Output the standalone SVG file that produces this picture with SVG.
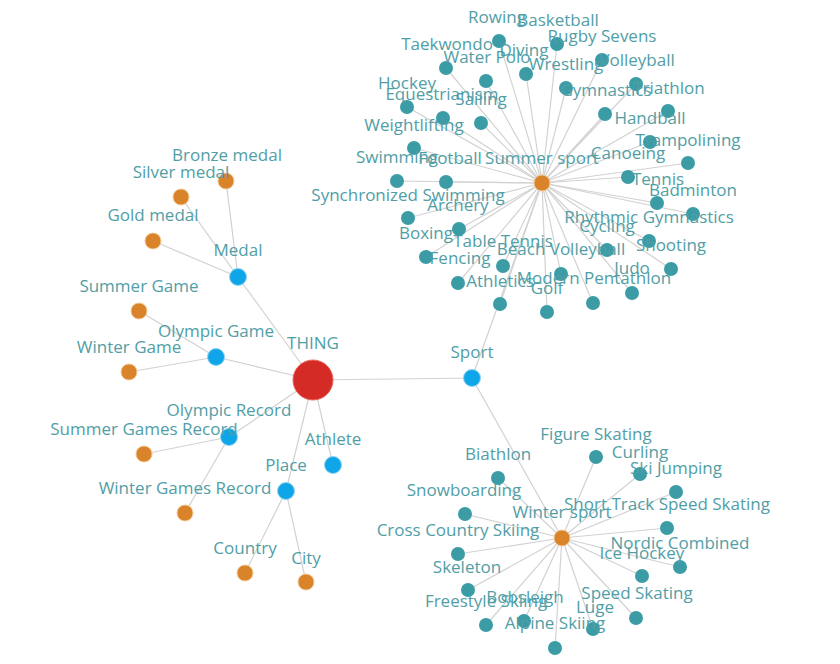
<svg xmlns="http://www.w3.org/2000/svg" width="840" height="664" viewBox="0 0 840 664">
<style>
.e{stroke:#d2d2d2;stroke-width:1.2;fill:none}
text{font-family:"Open Sans","Noto Sans","Liberation Sans",sans-serif;font-size:17px;fill:#519ea6;text-anchor:middle}
.red{fill:#d42b27;stroke:#e86a5a;stroke-width:1}
.blue{fill:#0fa5e9;stroke:#8fd3f4;stroke-width:1}
.org{fill:#d9832a;stroke:#f3c792;stroke-width:1}
.teal{fill:#3b9ca6}
</style>
<rect width="840" height="664" fill="#ffffff"/>
<g id="connectors">
<line class="e" x1="313" y1="380" x2="472" y2="378"/>
<line class="e" x1="313" y1="380" x2="238" y2="277"/>
<line class="e" x1="313" y1="380" x2="216" y2="357"/>
<line class="e" x1="313" y1="380" x2="229" y2="437"/>
<line class="e" x1="313" y1="380" x2="333" y2="465"/>
<line class="e" x1="313" y1="380" x2="286" y2="491"/>
<line class="e" x1="238" y1="277" x2="226" y2="181"/>
<line class="e" x1="238" y1="277" x2="181" y2="197"/>
<line class="e" x1="238" y1="277" x2="153" y2="241"/>
<line class="e" x1="216" y1="357" x2="139" y2="311"/>
<line class="e" x1="216" y1="357" x2="129" y2="372"/>
<line class="e" x1="229" y1="437" x2="144" y2="454"/>
<line class="e" x1="229" y1="437" x2="185" y2="513"/>
<line class="e" x1="286" y1="491" x2="245" y2="573"/>
<line class="e" x1="286" y1="491" x2="306" y2="582"/>
<line class="e" x1="472" y1="378" x2="542" y2="183"/>
<line class="e" x1="472" y1="378" x2="562" y2="538"/>
<g id="summer-edges">
<line class="e" x1="542" y1="183" x2="499" y2="41"/>
<line class="e" x1="542" y1="183" x2="557" y2="44"/>
<line class="e" x1="542" y1="183" x2="602" y2="60"/>
<line class="e" x1="542" y1="183" x2="446" y2="68"/>
<line class="e" x1="542" y1="183" x2="486" y2="81"/>
<line class="e" x1="542" y1="183" x2="526" y2="74"/>
<line class="e" x1="542" y1="183" x2="566" y2="88"/>
<line class="e" x1="542" y1="183" x2="636" y2="84"/>
<line class="e" x1="542" y1="183" x2="407" y2="107"/>
<line class="e" x1="542" y1="183" x2="443" y2="118"/>
<line class="e" x1="542" y1="183" x2="481" y2="123"/>
<line class="e" x1="542" y1="183" x2="605" y2="114"/>
<line class="e" x1="542" y1="183" x2="668" y2="111"/>
<line class="e" x1="542" y1="183" x2="650" y2="142"/>
<line class="e" x1="542" y1="183" x2="414" y2="148"/>
<line class="e" x1="542" y1="183" x2="688" y2="163"/>
<line class="e" x1="542" y1="183" x2="397" y2="181"/>
<line class="e" x1="542" y1="183" x2="446" y2="182"/>
<line class="e" x1="542" y1="183" x2="628" y2="177"/>
<line class="e" x1="542" y1="183" x2="657" y2="203"/>
<line class="e" x1="542" y1="183" x2="408" y2="218"/>
<line class="e" x1="542" y1="183" x2="459" y2="229"/>
<line class="e" x1="542" y1="183" x2="693" y2="214"/>
<line class="e" x1="542" y1="183" x2="426" y2="257"/>
<line class="e" x1="542" y1="183" x2="649" y2="241"/>
<line class="e" x1="542" y1="183" x2="607" y2="250"/>
<line class="e" x1="542" y1="183" x2="503" y2="266"/>
<line class="e" x1="542" y1="183" x2="561" y2="274"/>
<line class="e" x1="542" y1="183" x2="458" y2="283"/>
<line class="e" x1="542" y1="183" x2="671" y2="269"/>
<line class="e" x1="542" y1="183" x2="632" y2="293"/>
<line class="e" x1="542" y1="183" x2="500" y2="304"/>
<line class="e" x1="542" y1="183" x2="593" y2="303"/>
<line class="e" x1="542" y1="183" x2="547" y2="312"/>
</g>
<g id="winter-edges">
<line class="e" x1="562" y1="538" x2="596" y2="457"/>
<line class="e" x1="562" y1="538" x2="640" y2="474"/>
<line class="e" x1="562" y1="538" x2="676" y2="492"/>
<line class="e" x1="562" y1="538" x2="498" y2="478"/>
<line class="e" x1="562" y1="538" x2="465" y2="514"/>
<line class="e" x1="562" y1="538" x2="667" y2="528"/>
<line class="e" x1="562" y1="538" x2="458" y2="554"/>
<line class="e" x1="562" y1="538" x2="680" y2="567"/>
<line class="e" x1="562" y1="538" x2="642" y2="576"/>
<line class="e" x1="562" y1="538" x2="468" y2="590"/>
<line class="e" x1="562" y1="538" x2="636" y2="618"/>
<line class="e" x1="562" y1="538" x2="486" y2="625"/>
<line class="e" x1="562" y1="538" x2="524" y2="621"/>
<line class="e" x1="562" y1="538" x2="593" y2="629"/>
<line class="e" x1="562" y1="538" x2="555" y2="648"/>
</g>
</g>
<g id="nodes">
<g id="n-thing"><text x="313" y="349">THING</text><circle class="red" cx="313" cy="380" r="20"/></g>
<g id="n-medal"><text x="238" y="256">Medal</text><circle class="blue" cx="238" cy="277" r="8.5"/></g>
<g id="n-olympic-game"><text x="216" y="337">Olympic Game</text><circle class="blue" cx="216" cy="357" r="8.5"/></g>
<g id="n-olympic-record"><text x="229" y="416">Olympic Record</text><circle class="blue" cx="229" cy="437" r="8.5"/></g>
<g id="n-athlete"><text x="333" y="445">Athlete</text><circle class="blue" cx="333" cy="465" r="8.5"/></g>
<g id="n-place"><text x="286" y="471">Place</text><circle class="blue" cx="286" cy="491" r="8.5"/></g>
<g id="n-sport"><text x="472" y="358">Sport</text><circle class="blue" cx="472" cy="378" r="8.5"/></g>
<g id="n-bronze"><text x="227" y="161">Bronze medal</text><circle class="org" cx="226" cy="181" r="8"/></g>
<g id="n-silver"><text x="181" y="178">Silver medal</text><circle class="org" cx="181" cy="197" r="8"/></g>
<g id="n-gold"><text x="153" y="221">Gold medal</text><circle class="org" cx="153" cy="241" r="8"/></g>
<g id="n-summer-game"><text x="139" y="292">Summer Game</text><circle class="org" cx="139" cy="311" r="8"/></g>
<g id="n-winter-game"><text x="129" y="353">Winter Game</text><circle class="org" cx="129" cy="372" r="8"/></g>
<g id="n-summer-games-record"><text x="144" y="435">Summer Games Record</text><circle class="org" cx="144" cy="454" r="8"/></g>
<g id="n-winter-games-record"><text x="185" y="494">Winter Games Record</text><circle class="org" cx="185" cy="513" r="8"/></g>
<g id="n-country"><text x="245" y="554">Country</text><circle class="org" cx="245" cy="573" r="8"/></g>
<g id="n-city"><text x="306" y="564">City</text><circle class="org" cx="306" cy="582" r="8"/></g>
<g id="n-summer-sport"><text x="542" y="164">Summer sport</text><circle class="org" cx="542" cy="183" r="8"/></g>
<g id="n-winter-sport"><text x="562" y="518">Winter sport</text><circle class="org" cx="562" cy="538" r="8"/></g>
<g id="n-rowing"><text x="497" y="23">Rowing</text><circle class="teal" cx="499" cy="41" r="7"/></g>
<g id="n-basketball"><text x="558" y="26">Basketball</text><circle class="teal" cx="557" cy="44" r="7"/></g>
<g id="n-rugby"><text x="602" y="42">Rugby Sevens</text><circle class="teal" cx="602" cy="60" r="7"/></g>
<g id="n-taekwondo"><text x="447" y="50">Taekwondo</text><circle class="teal" cx="446" cy="68" r="7"/></g>
<g id="n-waterpolo"><text x="487" y="63">Water Polo</text><circle class="teal" cx="486" cy="81" r="7"/></g>
<g id="n-diving"><text x="524" y="56">Diving</text><circle class="teal" cx="526" cy="74" r="7"/></g>
<g id="n-wrestling"><text x="566" y="70">Wrestling</text><circle class="teal" cx="566" cy="88" r="7"/></g>
<g id="n-volleyball"><text x="637" y="66">Volleyball</text><circle class="teal" cx="636" cy="84" r="7"/></g>
<g id="n-hockey"><text x="407" y="89">Hockey</text><circle class="teal" cx="407" cy="107" r="7"/></g>
<g id="n-equestrianism"><text x="442" y="100">Equestrianism</text><circle class="teal" cx="443" cy="118" r="7"/></g>
<g id="n-sailing"><text x="481" y="105">Sailing</text><circle class="teal" cx="481" cy="123" r="7"/></g>
<g id="n-gymnastics"><text x="606" y="96">Gymnastics</text><circle class="teal" cx="605" cy="114" r="7"/></g>
<g id="n-triathlon"><text x="669" y="94">Triathlon</text><circle class="teal" cx="668" cy="111" r="7"/></g>
<g id="n-handball"><text x="650" y="124">Handball</text><circle class="teal" cx="650" cy="142" r="7"/></g>
<g id="n-weightlifting"><text x="414" y="131">Weightlifting</text><circle class="teal" cx="414" cy="148" r="7"/></g>
<g id="n-trampolining"><text x="688" y="146">Trampolining</text><circle class="teal" cx="688" cy="163" r="7"/></g>
<g id="n-swimming"><text x="397" y="163">Swimming</text><circle class="teal" cx="397" cy="181" r="7"/></g>
<g id="n-football"><text x="450" y="164">Football</text><circle class="teal" cx="446" cy="182" r="7"/></g>
<g id="n-canoeing"><text x="628" y="159">Canoeing</text><circle class="teal" cx="628" cy="177" r="7"/></g>
<g id="n-tennis"><text x="658" y="185">Tennis</text><circle class="teal" cx="657" cy="203" r="7"/></g>
<g id="n-synchro"><text x="408" y="201">Synchronized Swimming</text><circle class="teal" cx="408" cy="218" r="7"/></g>
<g id="n-archery"><text x="458" y="211">Archery</text><circle class="teal" cx="459" cy="229" r="7"/></g>
<g id="n-badminton"><text x="693" y="196">Badminton</text><circle class="teal" cx="693" cy="214" r="7"/></g>
<g id="n-boxing"><text x="426" y="239">Boxing</text><circle class="teal" cx="426" cy="257" r="7"/></g>
<g id="n-rhythmic"><text x="649" y="223">Rhythmic Gymnastics</text><circle class="teal" cx="649" cy="241" r="7"/></g>
<g id="n-cycling"><text x="607" y="232">Cycling</text><circle class="teal" cx="607" cy="250" r="7"/></g>
<g id="n-tabletennis"><text x="503" y="247">Table Tennis</text><circle class="teal" cx="503" cy="266" r="7"/></g>
<g id="n-beachvolleyball"><text x="561" y="255">Beach Volleyball</text><circle class="teal" cx="561" cy="274" r="7"/></g>
<g id="n-fencing"><text x="460" y="264">Fencing</text><circle class="teal" cx="458" cy="283" r="7"/></g>
<g id="n-shooting"><text x="671" y="251">Shooting</text><circle class="teal" cx="671" cy="269" r="7"/></g>
<g id="n-judo"><text x="632" y="274">Judo</text><circle class="teal" cx="632" cy="293" r="7"/></g>
<g id="n-athletics"><text x="500" y="287">Athletics</text><circle class="teal" cx="500" cy="304" r="7"/></g>
<g id="n-pentathlon"><text x="594" y="284">Modern Pentathlon</text><circle class="teal" cx="593" cy="303" r="7"/></g>
<g id="n-golf"><text x="547" y="294">Golf</text><circle class="teal" cx="547" cy="312" r="7"/></g>
<g id="n-figureskating"><text x="596" y="440">Figure Skating</text><circle class="teal" cx="596" cy="457" r="7"/></g>
<g id="n-curling"><text x="640" y="458">Curling</text><circle class="teal" cx="640" cy="474" r="7"/></g>
<g id="n-skijumping"><text x="676" y="474">Ski Jumping</text><circle class="teal" cx="676" cy="492" r="7"/></g>
<g id="n-biathlon"><text x="498" y="460">Biathlon</text><circle class="teal" cx="498" cy="478" r="7"/></g>
<g id="n-snowboarding"><text x="464" y="496">Snowboarding</text><circle class="teal" cx="465" cy="514" r="7"/></g>
<g id="n-shorttrack"><text x="667" y="510">Short Track Speed Skating</text><circle class="teal" cx="667" cy="528" r="7"/></g>
<g id="n-crosscountry"><text x="458" y="536">Cross Country Skiing</text><circle class="teal" cx="458" cy="554" r="7"/></g>
<g id="n-nordic"><text x="680" y="549">Nordic Combined</text><circle class="teal" cx="680" cy="567" r="7"/></g>
<g id="n-icehockey"><text x="642" y="559">Ice Hockey</text><circle class="teal" cx="642" cy="576" r="7"/></g>
<g id="n-skeleton"><text x="467" y="573">Skeleton</text><circle class="teal" cx="468" cy="590" r="7"/></g>
<g id="n-speedskating"><text x="637" y="599">Speed Skating</text><circle class="teal" cx="636" cy="618" r="7"/></g>
<g id="n-freestyle"><text x="486" y="607">Freestyle Skiing</text><circle class="teal" cx="486" cy="625" r="7"/></g>
<g id="n-bobsleigh"><text x="525" y="603">Bobsleigh</text><circle class="teal" cx="524" cy="621" r="7"/></g>
<g id="n-luge"><text x="595" y="613">Luge</text><circle class="teal" cx="593" cy="629" r="7"/></g>
<g id="n-alpine"><text x="555" y="629">Alpine Skiing</text><circle class="teal" cx="555" cy="648" r="7"/></g>
</g>
</svg>
